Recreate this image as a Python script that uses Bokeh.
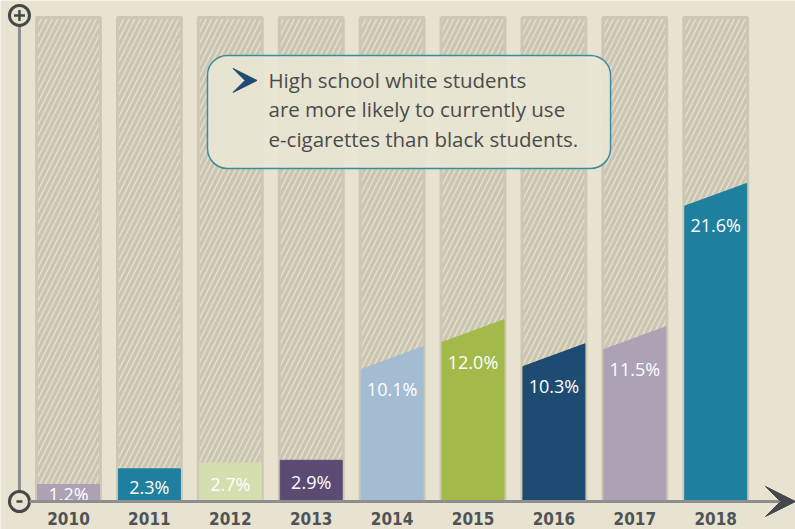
import numpy as np
from bokeh.plotting import figure
from bokeh.models import Range1d, BoxAnnotation, Arrow, VeeHead, ColumnDataSource, Label
from bokeh.core.properties import value
from bokeh.embed import file_html
from bokeh.resources import INLINE

# ---- data ----
years = ["2010", "2011", "2012", "2013", "2014", "2015", "2016", "2017", "2018"]
values = [1.2, 2.3, 2.7, 2.9, 10.1, 12.0, 10.3, 11.5, 21.6]
value_labels = ["1.2%", "2.3%", "2.7%", "2.9%", "10.1%", "12.0%", "10.3%", "11.5%", "21.6%"]
bar_colors = ["#ada1b5", "#1f7f9f", "#d4deae", "#5b4b73", "#a3bcd1",
              "#a3b949", "#1d4b72", "#ada1b5", "#1e7f9f"]
callout_lines = ["High school white students",
                 "are more likely to currently use",
                 "e-cigarettes than black students."]

BG = "#e8e3d0"
W, H = 795, 529
x = np.arange(len(years))

p = figure(width=W, height=H, output_backend="svg", toolbar_location=None,
           x_range=Range1d(-0.8405, 8.986), y_range=Range1d(-1.972, 35.28),
           min_border=0, min_border_left=0, min_border_right=0,
           min_border_top=0, min_border_bottom=0,
           background_fill_color=BG, border_fill_color=BG, outline_line_color=None)
p.axis.visible = False
p.grid.visible = False

# full-height hatched background bars
full_top = 34.08
p.vbar(x=x, top=full_top, bottom=0, width=0.79, fill_color="#e4dfca",
       hatch_pattern="/", hatch_color="#cbc6b3", hatch_weight=3.5, hatch_scale=11,
       line_color="#cdc8b5", line_width=3)

# coloured bars with slanted tops
w = 0.766
xs, ys, label_y = [], [], []
for i, v in enumerate(values):
    s = 0.8 if v > 5 else 0.0
    xs.append([i - w / 2, i - w / 2, i + w / 2, i + w / 2])
    ys.append([0, v - s, v + s, 0])
    tl = v - s
    label_y.append(tl - 1.35 if tl > 4 else tl * 0.5 - 0.1)
p.patches(xs=xs, ys=ys, fill_color=bar_colors, line_color=bar_colors, line_width=1)

src = ColumnDataSource(dict(x=x, y=label_y, t=value_labels))
p.text(x="x", y="y", text="t", source=src, text_color="white",
       text_font=value("Open Sans"), text_font_size="18px",
       text_align="center", text_baseline="middle")

# year labels
p.text(x=x, y=[-1.2] * len(years), text=years, text_color="#505356",
       text_font=value("Liberation Sans Narrow, DejaVu Sans Condensed, sans-serif"),
       text_font_style="bold", text_font_size="17px",
       text_align="center", text_baseline="middle")

# axes decoration
ax_x = -0.606
p.segment(x0=[ax_x], y0=[0.75], x1=[ax_x], y1=[33.5], line_color="#8e8e8e", line_width=3)
p.add_layout(Arrow(x_start=-0.48, y_start=0, x_end=8.986, y_end=0,
                   line_color="#8e8e8e", line_width=3,
                   end=VeeHead(size=30, fill_color="#45474a", line_color="#45474a")))
p.scatter(x=[ax_x, ax_x], y=[34.23, 0.0], marker="circle", size=20,
          fill_color=BG, line_color="#45474a", line_width=3)
p.scatter(x=[ax_x], y=[34.23], marker="cross", size=11, line_color="#45474a", line_width=2.5)
p.scatter(x=[ax_x], y=[0.0], marker="dash", size=6, line_color="#45474a", line_width=2.5)

# callout box
p.add_layout(BoxAnnotation(left=1.718, right=6.70, top=31.41, bottom=23.45,
                           fill_color="#e9e6d4", fill_alpha=0.9,
                           line_color="#3d8ba3", line_alpha=1.0, line_width=1.5,
                           border_radius=20))
p.add_layout(Arrow(x_start=1.95, y_start=29.65, x_end=2.33, y_end=29.65,
                   line_alpha=0, line_width=0.1,
                   end=VeeHead(size=24, fill_color="#1f4a72", line_color="#1f4a72")))
for line, yy in zip(callout_lines, [29.65, 27.61, 25.56]):
    p.add_layout(Label(x=2.472, y=yy, text=line, text_color="#4b4b4b",
                       text_font="Open Sans", text_font_size="20.5px",
                       text_align="left", text_baseline="middle"))

html = file_html(p, INLINE)
html = html.replace("</head>", "<style>html,body{margin:0;padding:0;overflow:hidden;}</style></head>", 1)
open("out.html", "w").write(html)
